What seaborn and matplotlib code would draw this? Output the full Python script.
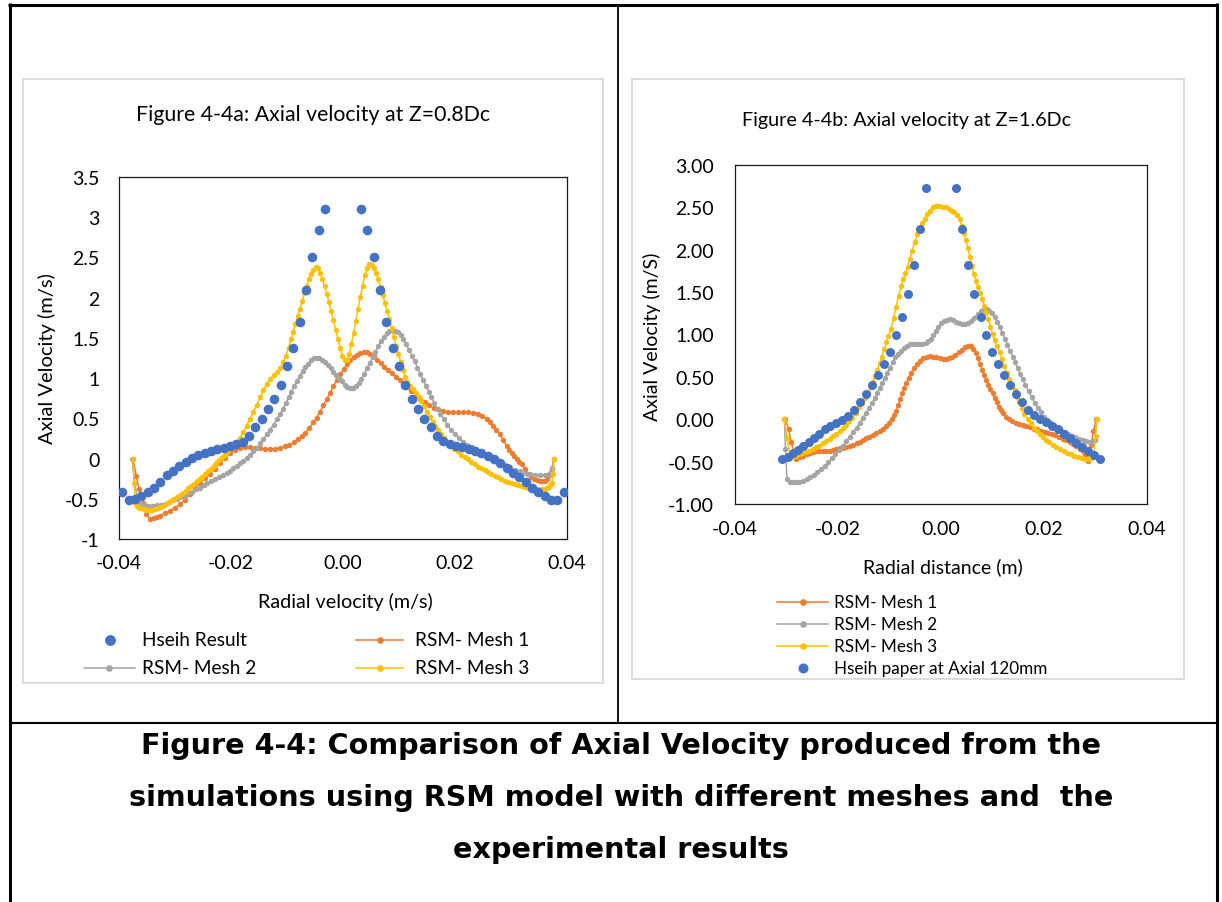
import matplotlib
matplotlib.use("Agg")
import matplotlib.pyplot as plt
import seaborn as sns
from matplotlib.lines import Line2D
from matplotlib.patches import Rectangle

# ---------------- data ----------------
title_a = "Figure 4-4a: Axial velocity at Z=0.8Dc"
title_b = "Figure 4-4b: Axial velocity at Z=1.6Dc"
xlabel_a = "Radial velocity (m/s)"
xlabel_b = "Radial distance (m)"
ylabel_a = "Axial Velocity (m/s)"
ylabel_b = "Axial Velocity (m/S)"
legend_a = ["Hseih Result", "RSM- Mesh 1", "RSM- Mesh 2", "RSM- Mesh 3"]
legend_b = ["RSM- Mesh 1", "RSM- Mesh 2", "RSM- Mesh 3", "Hseih paper at Axial 120mm"]
caption_lines = ["Figure 4-4: Comparison of Axial Velocity produced from the",
                 "simulations using RSM model with different meshes and  the",
                 "experimental results"]

xticks = [-0.04, -0.02, 0.0, 0.02, 0.04]
xtick_labels = ["-0.04", "-0.02", "0.00", "0.02", "0.04"]
yticks_a = [-1, -0.5, 0, 0.5, 1, 1.5, 2, 2.5, 3, 3.5]
ytick_labels_a = ["-1", "-0.5", "0", "0.5", "1", "1.5", "2", "2.5", "3", "3.5"]
yticks_b = [-1, -0.5, 0, 0.5, 1, 1.5, 2, 2.5, 3]
ytick_labels_b = ["-1.00", "-0.50", "0.00", "0.50", "1.00", "1.50", "2.00", "2.50", "3.00"]

# Chart a -------------------------------------------------------------
hseih_a = [(-0.0395, -0.42), (-0.0383, -0.51), (-0.0372, -0.50), (-0.0360, -0.46), (-0.0349, -0.42),
           (-0.0338, -0.36), (-0.0327, -0.29), (-0.0315, -0.21), (-0.0304, -0.16), (-0.0293, -0.09),
           (-0.0281, -0.04), (-0.0270, 0.01), (-0.0259, 0.05), (-0.0247, 0.07), (-0.0236, 0.10),
           (-0.0225, 0.12), (-0.0213, 0.13), (-0.0202, 0.15), (-0.0191, 0.18), (-0.0179, 0.21),
           (-0.0168, 0.28), (-0.0157, 0.39), (-0.0145, 0.49), (-0.0134, 0.61), (-0.0123, 0.74),
           (-0.0111, 0.91), (-0.0100, 1.15), (-0.0089, 1.38), (-0.0077, 1.70), (-0.0066, 2.10),
           (-0.0055, 2.51), (-0.0043, 2.84), (-0.0032, 3.10),
           (0.0032, 3.10), (0.0043, 2.84), (0.0055, 2.51), (0.0066, 2.10), (0.0077, 1.70),
           (0.0089, 1.38), (0.0100, 1.15), (0.0111, 0.91), (0.0123, 0.74), (0.0134, 0.61),
           (0.0145, 0.49), (0.0157, 0.39), (0.0168, 0.28), (0.0179, 0.22), (0.0191, 0.18),
           (0.0202, 0.15), (0.0213, 0.14), (0.0225, 0.12), (0.0236, 0.10), (0.0247, 0.07),
           (0.0259, 0.03), (0.0270, -0.01), (0.0281, -0.06), (0.0293, -0.12), (0.0304, -0.18),
           (0.0315, -0.23), (0.0327, -0.29), (0.0338, -0.36), (0.0349, -0.41), (0.0360, -0.46),
           (0.0372, -0.51), (0.0383, -0.52), (0.0395, -0.42)]

mesh1_a = [(-0.0375, 0.0), (-0.0369, -0.22), (-0.0364, -0.38), (-0.0357, -0.55), (-0.0351, -0.69),
           (-0.0345, -0.75), (-0.0338, -0.74), (-0.0332, -0.73), (-0.0326, -0.71), (-0.0318, -0.68),
           (-0.0309, -0.65), (-0.0300, -0.61), (-0.0291, -0.57), (-0.0282, -0.51), (-0.0273, -0.44),
           (-0.0264, -0.37), (-0.0255, -0.30), (-0.0246, -0.24), (-0.0238, -0.19), (-0.0229, -0.13),
           (-0.0220, -0.06), (-0.0211, 0.01), (-0.0202, 0.07), (-0.0193, 0.11), (-0.0184, 0.13),
           (-0.0175, 0.14), (-0.0166, 0.14), (-0.0157, 0.13), (-0.0148, 0.13), (-0.0139, 0.12),
           (-0.0130, 0.12), (-0.0121, 0.12), (-0.0112, 0.13), (-0.0104, 0.15), (-0.0096, 0.17),
           (-0.0088, 0.20), (-0.0081, 0.24), (-0.0074, 0.28), (-0.0067, 0.32), (-0.0060, 0.38),
           (-0.0053, 0.45), (-0.0047, 0.51), (-0.0041, 0.58), (-0.0035, 0.66), (-0.0029, 0.74),
           (-0.0023, 0.82), (-0.0017, 0.90), (-0.0011, 0.98), (-0.0005, 1.05), (0.0001, 1.11),
           (0.0007, 1.17), (0.0013, 1.22), (0.0019, 1.26), (0.0025, 1.29), (0.0031, 1.31),
           (0.0037, 1.32), (0.0043, 1.32), (0.0049, 1.30), (0.0055, 1.27), (0.0061, 1.23),
           (0.0067, 1.19), (0.0073, 1.14), (0.0080, 1.10), (0.0087, 1.06), (0.0094, 1.02),
           (0.0101, 0.98), (0.0108, 0.94), (0.0115, 0.89), (0.0122, 0.84), (0.0130, 0.79),
           (0.0138, 0.74), (0.0146, 0.70), (0.0154, 0.66), (0.0162, 0.63), (0.0170, 0.61),
           (0.0179, 0.59), (0.0188, 0.58), (0.0197, 0.575), (0.0206, 0.575), (0.0215, 0.575),
           (0.0224, 0.575), (0.0233, 0.57), (0.0241, 0.56), (0.0249, 0.53), (0.0257, 0.49),
           (0.0263, 0.45), (0.0268, 0.41), (0.0274, 0.36), (0.0280, 0.30), (0.0286, 0.23),
           (0.0292, 0.16), (0.0297, 0.11), (0.0301, 0.07), (0.0306, 0.03), (0.0310, 0.00),
           (0.0315, -0.04), (0.0319, -0.07), (0.0325, -0.13), (0.0331, -0.19), (0.0336, -0.23),
           (0.0341, -0.26), (0.0347, -0.27), (0.0352, -0.275), (0.0357, -0.28), (0.0361, -0.28),
           (0.0365, -0.25), (0.0368, -0.21), (0.0373, -0.13), (0.0377, 0.0)]

mesh2_a = [(-0.0377, 0.0), (-0.0372, -0.30), (-0.0366, -0.55), (-0.0360, -0.57), (-0.0353, -0.58),
           (-0.0346, -0.585), (-0.0339, -0.585), (-0.0332, -0.58), (-0.0325, -0.575), (-0.0318, -0.56),
           (-0.0311, -0.54), (-0.0304, -0.52), (-0.0297, -0.50), (-0.0291, -0.48), (-0.0284, -0.46),
           (-0.0277, -0.43), (-0.0270, -0.41), (-0.0263, -0.38), (-0.0256, -0.36), (-0.0249, -0.33),
           (-0.0242, -0.31), (-0.0235, -0.28), (-0.0228, -0.26), (-0.0221, -0.23), (-0.0214, -0.21),
           (-0.0208, -0.18), (-0.0202, -0.15), (-0.0196, -0.12), (-0.0190, -0.09), (-0.0184, -0.06),
           (-0.0178, -0.03), (-0.0172, 0.01), (-0.0166, 0.05), (-0.0160, 0.09), (-0.0154, 0.13),
           (-0.0148, 0.19), (-0.0142, 0.24), (-0.0136, 0.30), (-0.0130, 0.36), (-0.0124, 0.42),
           (-0.0118, 0.49), (-0.0112, 0.56), (-0.0107, 0.62), (-0.0102, 0.69), (-0.0097, 0.76),
           (-0.0092, 0.83), (-0.0087, 0.90), (-0.0082, 0.97), (-0.0077, 1.03), (-0.0072, 1.09),
           (-0.0067, 1.14), (-0.0062, 1.18), (-0.0057, 1.22), (-0.0052, 1.245), (-0.0047, 1.255),
           (-0.0042, 1.25), (-0.0037, 1.23), (-0.0032, 1.20), (-0.0027, 1.16), (-0.0022, 1.12),
           (-0.0017, 1.08), (-0.0012, 1.04), (-0.0007, 1.00), (-0.0002, 0.96), (0.0003, 0.92),
           (0.0008, 0.89), (0.0013, 0.88), (0.0018, 0.88), (0.0023, 0.90), (0.0028, 0.94),
           (0.0033, 0.99), (0.0038, 1.05), (0.0043, 1.12), (0.0048, 1.19), (0.0053, 1.26),
           (0.0058, 1.33), (0.0063, 1.40), (0.0068, 1.46), (0.0073, 1.51), (0.0078, 1.555),
           (0.0083, 1.585), (0.0088, 1.595), (0.0093, 1.59), (0.0098, 1.57), (0.0103, 1.53),
           (0.0108, 1.48), (0.0113, 1.42), (0.0118, 1.35), (0.0123, 1.28), (0.0128, 1.21),
           (0.0133, 1.13), (0.0138, 1.05), (0.0143, 0.98), (0.0148, 0.90), (0.0153, 0.83),
           (0.0158, 0.76), (0.0163, 0.69), (0.0168, 0.62), (0.0174, 0.56), (0.0180, 0.49),
           (0.0186, 0.42), (0.0193, 0.36), (0.0200, 0.30), (0.0207, 0.25), (0.0215, 0.20),
           (0.0222, 0.17), (0.0230, 0.14), (0.0238, 0.11), (0.0245, 0.085), (0.0254, 0.05),
           (0.0263, 0.015), (0.0271, -0.02), (0.0280, -0.05), (0.0289, -0.08), (0.0298, -0.11),
           (0.0307, -0.14), (0.0316, -0.16), (0.0325, -0.18), (0.0334, -0.19), (0.0343, -0.20),
           (0.0352, -0.20), (0.0360, -0.20), (0.0367, -0.195), (0.0373, -0.12), (0.0377, 0.0)]

mesh3_a = [(-0.0375, 0.0), (-0.0373, -0.30), (-0.0371, -0.55), (-0.0368, -0.59), (-0.0364, -0.61),
           (-0.0360, -0.62), (-0.0356, -0.63), (-0.0351, -0.64), (-0.0346, -0.64), (-0.0341, -0.635),
           (-0.0336, -0.63), (-0.0331, -0.62), (-0.0326, -0.60), (-0.0321, -0.585), (-0.0316, -0.565),
           (-0.0311, -0.545), (-0.0306, -0.52), (-0.0301, -0.50), (-0.0296, -0.475), (-0.0291, -0.45),
           (-0.0286, -0.425), (-0.0281, -0.40), (-0.0276, -0.37), (-0.0271, -0.345), (-0.0266, -0.315),
           (-0.0261, -0.285), (-0.0256, -0.255), (-0.0251, -0.225), (-0.0246, -0.19), (-0.0241, -0.16),
           (-0.0236, -0.125), (-0.0231, -0.09), (-0.0226, -0.055), (-0.0221, -0.02), (-0.0216, 0.015),
           (-0.0211, 0.05), (-0.0206, 0.09), (-0.0201, 0.13), (-0.0196, 0.17), (-0.0190, 0.21),
           (-0.0184, 0.26), (-0.0178, 0.33), (-0.0172, 0.41), (-0.0166, 0.49), (-0.0160, 0.58),
           (-0.0154, 0.67), (-0.0148, 0.76), (-0.0142, 0.85), (-0.0136, 0.93), (-0.0130, 0.99),
           (-0.0124, 1.04), (-0.0118, 1.08), (-0.0112, 1.12), (-0.0107, 1.20), (-0.0102, 1.28),
           (-0.0097, 1.38), (-0.0093, 1.48), (-0.0089, 1.57), (-0.0085, 1.67), (-0.0081, 1.77),
           (-0.0077, 1.86), (-0.0073, 1.96), (-0.0069, 2.06), (-0.0065, 2.15), (-0.0061, 2.23),
           (-0.0057, 2.30), (-0.0053, 2.35), (-0.0049, 2.38), (-0.0045, 2.37), (-0.0041, 2.31),
           (-0.0037, 2.23), (-0.0033, 2.14), (-0.0029, 2.05), (-0.0025, 1.94), (-0.0021, 1.83),
           (-0.0017, 1.72), (-0.0013, 1.60), (-0.0009, 1.49), (-0.0005, 1.38), (-0.0001, 1.28),
           (0.0003, 1.22), (0.0007, 1.22), (0.0011, 1.30), (0.0015, 1.42), (0.0019, 1.56),
           (0.0023, 1.71), (0.0027, 1.86), (0.0031, 2.01), (0.0035, 2.15), (0.0039, 2.28),
           (0.0043, 2.37), (0.0047, 2.42), (0.0051, 2.41), (0.0055, 2.37), (0.0059, 2.31),
           (0.0063, 2.23), (0.0067, 2.13), (0.0071, 2.03), (0.0075, 1.93), (0.0079, 1.83),
           (0.0083, 1.73), (0.0087, 1.62), (0.0091, 1.51), (0.0095, 1.40), (0.0099, 1.30),
           (0.0103, 1.20), (0.0107, 1.10), (0.0111, 1.01), (0.0115, 0.95), (0.0120, 0.90),
           (0.0125, 0.86), (0.0130, 0.82), (0.0135, 0.77), (0.0140, 0.71), (0.0145, 0.65),
           (0.0150, 0.58), (0.0155, 0.52), (0.0160, 0.46), (0.0165, 0.40), (0.0170, 0.35),
           (0.0175, 0.30), (0.0181, 0.25), (0.0187, 0.20), (0.0193, 0.16), (0.0199, 0.12),
           (0.0205, 0.09), (0.0211, 0.05), (0.0217, 0.02), (0.0223, -0.01), (0.0229, -0.04),
           (0.0235, -0.07), (0.0241, -0.10), (0.0247, -0.12), (0.0253, -0.145), (0.0259, -0.17),
           (0.0265, -0.195), (0.0271, -0.215), (0.0277, -0.235), (0.0283, -0.255), (0.0289, -0.275),
           (0.0295, -0.29), (0.0301, -0.305), (0.0307, -0.32), (0.0313, -0.33), (0.0319, -0.34),
           (0.0325, -0.35), (0.0331, -0.36), (0.0337, -0.37), (0.0343, -0.375), (0.0349, -0.38),
           (0.0355, -0.38), (0.0360, -0.375), (0.0364, -0.36), (0.0367, -0.35), (0.0370, -0.33),
           (0.0373, -0.30), (0.0375, -0.19), (0.0377, 0.0)]

# Chart b -------------------------------------------------------------
hseih_b = [(-0.0308, -0.47), (-0.0297, -0.44), (-0.0287, -0.40), (-0.0277, -0.36), (-0.0267, -0.31),
           (-0.0257, -0.265), (-0.0247, -0.22), (-0.0237, -0.175), (-0.0226, -0.12), (-0.0215, -0.08),
           (-0.0204, -0.04), (-0.0193, -0.005), (-0.0181, 0.035), (-0.0169, 0.11), (-0.0157, 0.20),
           (-0.0145, 0.30), (-0.0134, 0.41), (-0.0122, 0.52), (-0.0110, 0.65), (-0.0099, 0.79),
           (-0.0087, 1.00), (-0.0075, 1.21), (-0.0064, 1.48), (-0.0052, 1.82), (-0.0041, 2.25),
           (-0.0029, 2.73),
           (0.0029, 2.73), (0.0041, 2.25), (0.0053, 1.82), (0.0065, 1.48), (0.0077, 1.21),
           (0.0088, 1.00), (0.0099, 0.79), (0.0111, 0.65), (0.0123, 0.52), (0.0134, 0.41),
           (0.0146, 0.30), (0.0157, 0.20), (0.0169, 0.11), (0.0181, 0.045), (0.0192, 0.005),
           (0.0203, -0.03), (0.0215, -0.075), (0.0227, -0.115), (0.0239, -0.17), (0.0251, -0.225),
           (0.0263, -0.28), (0.0274, -0.33), (0.0285, -0.38), (0.0297, -0.42), (0.0308, -0.47)]

mesh1_b = [(-0.0302, 0.0), (-0.0296, -0.12), (-0.0291, -0.27), (-0.0285, -0.40), (-0.0281, -0.47),
           (-0.0274, -0.45), (-0.0268, -0.43), (-0.0261, -0.41), (-0.0255, -0.40), (-0.0248, -0.39),
           (-0.0242, -0.38), (-0.0236, -0.375), (-0.0229, -0.37), (-0.0223, -0.37), (-0.0216, -0.37),
           (-0.0210, -0.365), (-0.0203, -0.355), (-0.0197, -0.345), (-0.0190, -0.34), (-0.0184, -0.33),
           (-0.0177, -0.315), (-0.0171, -0.30), (-0.0164, -0.28), (-0.0158, -0.265), (-0.0152, -0.245),
           (-0.0145, -0.225), (-0.0139, -0.205), (-0.0132, -0.185), (-0.0126, -0.16), (-0.0119, -0.135),
           (-0.0113, -0.11), (-0.0107, -0.08), (-0.0101, -0.04), (-0.0096, 0.00), (-0.0091, 0.05),
           (-0.0087, 0.10), (-0.0083, 0.17), (-0.0079, 0.24), (-0.0075, 0.31), (-0.0071, 0.37),
           (-0.0067, 0.43), (-0.0063, 0.49), (-0.0058, 0.55), (-0.0053, 0.60), (-0.0047, 0.65),
           (-0.0041, 0.69), (-0.0035, 0.72), (-0.0028, 0.74), (-0.0022, 0.745), (-0.0015, 0.74),
           (-0.0009, 0.73), (-0.0002, 0.72), (0.0004, 0.71), (0.0010, 0.715), (0.0016, 0.72),
           (0.0022, 0.74), (0.0028, 0.76), (0.0034, 0.79), (0.0040, 0.82), (0.0046, 0.85),
           (0.0052, 0.865), (0.0058, 0.86), (0.0063, 0.83), (0.0068, 0.78), (0.0072, 0.72),
           (0.0076, 0.65), (0.0080, 0.58), (0.0084, 0.52), (0.0088, 0.46), (0.0092, 0.41),
           (0.0096, 0.36), (0.0100, 0.31), (0.0104, 0.25), (0.0108, 0.20), (0.0112, 0.15),
           (0.0116, 0.11), (0.0121, 0.07), (0.0126, 0.03), (0.0132, 0.00), (0.0138, -0.02),
           (0.0145, -0.04), (0.0152, -0.06), (0.0159, -0.07), (0.0166, -0.08), (0.0173, -0.09),
           (0.0180, -0.11), (0.0187, -0.12), (0.0194, -0.14), (0.0201, -0.155), (0.0208, -0.165),
           (0.0215, -0.175), (0.0222, -0.19), (0.0229, -0.21), (0.0236, -0.23), (0.0243, -0.25),
           (0.0250, -0.27), (0.0257, -0.295), (0.0263, -0.32), (0.0269, -0.35), (0.0275, -0.38),
           (0.0280, -0.42), (0.0285, -0.49), (0.0291, -0.30), (0.0296, -0.14), (0.0301, 0.0)]

mesh2_b = [(-0.0304, 0.0), (-0.0302, -0.35), (-0.0299, -0.70), (-0.0294, -0.735), (-0.0288, -0.745),
           (-0.0282, -0.745), (-0.0275, -0.74), (-0.0268, -0.725), (-0.0261, -0.705), (-0.0254, -0.68),
           (-0.0247, -0.655), (-0.0240, -0.625), (-0.0233, -0.59), (-0.0226, -0.55), (-0.0219, -0.51),
           (-0.0212, -0.46), (-0.0205, -0.41), (-0.0198, -0.36), (-0.0191, -0.31), (-0.0184, -0.26),
           (-0.0177, -0.205), (-0.0171, -0.155), (-0.0164, -0.10), (-0.0158, -0.045), (-0.0152, 0.01),
           (-0.0146, 0.07), (-0.0140, 0.13), (-0.0134, 0.19), (-0.0129, 0.25), (-0.0124, 0.31),
           (-0.0119, 0.37), (-0.0114, 0.43), (-0.0109, 0.49), (-0.0104, 0.55), (-0.0099, 0.61),
           (-0.0094, 0.67), (-0.0089, 0.73), (-0.0084, 0.77), (-0.0078, 0.81), (-0.0072, 0.845),
           (-0.0066, 0.87), (-0.0060, 0.885), (-0.0054, 0.89), (-0.0048, 0.89), (-0.0042, 0.89),
           (-0.0036, 0.89), (-0.0030, 0.90), (-0.0025, 0.92), (-0.0020, 0.95), (-0.0015, 0.99),
           (-0.0010, 1.04), (-0.0005, 1.09), (0.0000, 1.13), (0.0005, 1.16), (0.0011, 1.175),
           (0.0017, 1.18), (0.0023, 1.17), (0.0029, 1.15), (0.0035, 1.135), (0.0041, 1.125),
           (0.0047, 1.125), (0.0053, 1.14), (0.0059, 1.16), (0.0065, 1.20), (0.0071, 1.24),
           (0.0077, 1.275), (0.0083, 1.30), (0.0089, 1.30), (0.0094, 1.28), (0.0099, 1.25),
           (0.0104, 1.21), (0.0109, 1.15), (0.0114, 1.09), (0.0119, 1.02), (0.0124, 0.95),
           (0.0129, 0.88), (0.0134, 0.81), (0.0139, 0.74), (0.0144, 0.67), (0.0149, 0.60),
           (0.0154, 0.53), (0.0159, 0.47), (0.0164, 0.40), (0.0170, 0.33), (0.0176, 0.26),
           (0.0182, 0.19), (0.0188, 0.13), (0.0194, 0.08), (0.0200, 0.03), (0.0206, -0.01),
           (0.0212, -0.03), (0.0219, -0.07), (0.0226, -0.10), (0.0233, -0.13), (0.0240, -0.155),
           (0.0247, -0.175), (0.0254, -0.195), (0.0261, -0.215), (0.0268, -0.23), (0.0275, -0.245),
           (0.0282, -0.26), (0.0289, -0.265), (0.0295, -0.26), (0.0299, -0.24), (0.0302, 0.0)]

mesh3_b = [(-0.0304, 0.0), (-0.0299, -0.22), (-0.0293, -0.43), (-0.0287, -0.44), (-0.0281, -0.43),
           (-0.0275, -0.415), (-0.0269, -0.40), (-0.0262, -0.385), (-0.0256, -0.37), (-0.0249, -0.35),
           (-0.0243, -0.33), (-0.0236, -0.31), (-0.0229, -0.285), (-0.0223, -0.26), (-0.0216, -0.23),
           (-0.0210, -0.20), (-0.0203, -0.17), (-0.0197, -0.135), (-0.0191, -0.10), (-0.0184, -0.065),
           (-0.0178, -0.02), (-0.0172, 0.02), (-0.0165, 0.07), (-0.0159, 0.14), (-0.0153, 0.19),
           (-0.0147, 0.25), (-0.0141, 0.31), (-0.0136, 0.38), (-0.0132, 0.44), (-0.0128, 0.51),
           (-0.0124, 0.58), (-0.0119, 0.66), (-0.0115, 0.74), (-0.0110, 0.83), (-0.0106, 0.91),
           (-0.0102, 0.98), (-0.0097, 1.06), (-0.0092, 1.20), (-0.0087, 1.33), (-0.0082, 1.46),
           (-0.0077, 1.57), (-0.0073, 1.65), (-0.0069, 1.72), (-0.0065, 1.80), (-0.0061, 1.89),
           (-0.0056, 1.99), (-0.0051, 2.09), (-0.0046, 2.18), (-0.0042, 2.25), (-0.0037, 2.31),
           (-0.0032, 2.36), (-0.0027, 2.42), (-0.0022, 2.46), (-0.0016, 2.50), (-0.0009, 2.52),
           (-0.0003, 2.52), (0.0003, 2.51), (0.0009, 2.50), (0.0015, 2.485), (0.0021, 2.46),
           (0.0026, 2.44), (0.0031, 2.41), (0.0036, 2.36), (0.0040, 2.28), (0.0044, 2.20),
           (0.0048, 2.12), (0.0052, 2.02), (0.0056, 1.92), (0.0060, 1.81), (0.0064, 1.71),
           (0.0068, 1.63), (0.0072, 1.56), (0.0076, 1.49), (0.0080, 1.42), (0.0084, 1.34),
           (0.0088, 1.26), (0.0092, 1.18), (0.0096, 1.09), (0.0100, 1.01), (0.0104, 0.93),
           (0.0109, 0.86), (0.0114, 0.79), (0.0118, 0.71), (0.0123, 0.63), (0.0128, 0.55),
           (0.0133, 0.475), (0.0138, 0.41), (0.0143, 0.34), (0.0148, 0.26), (0.0152, 0.20),
           (0.0157, 0.13), (0.0162, 0.06), (0.0168, 0.0), (0.0174, -0.05), (0.0180, -0.10),
           (0.0186, -0.14), (0.0192, -0.175), (0.0198, -0.21), (0.0204, -0.24), (0.0210, -0.27),
           (0.0217, -0.30), (0.0224, -0.33), (0.0231, -0.35), (0.0238, -0.375), (0.0245, -0.395),
           (0.0252, -0.41), (0.0259, -0.43), (0.0266, -0.445), (0.0273, -0.455), (0.0280, -0.465),
           (0.0286, -0.47), (0.0292, -0.46), (0.0297, -0.40), (0.0300, -0.20), (0.0303, 0.0)]

BLUE, ORANGE, GRAY, GOLD = "#4472C4", "#ED7D31", "#A5A5A5", "#FFC000"

# ---------------- figure ----------------
sns.set_style("white")
plt.rcParams["font.family"] = ["Lato", "DejaVu Sans"]
plt.rcParams["text.color"] = "black"

W, H = 1222, 903
fig = plt.figure(figsize=(W / 100, H / 100), dpi=100)
fig.patch.set_facecolor("white")


def fx(x):
    return x / W


def fy(y):
    return 1 - y / H


def mesh(ax, pts, color, z):
    xs, ys = zip(*pts)
    sns.lineplot(x=list(xs), y=list(ys), ax=ax, color=color, marker="o", markersize=3.9,
                 markeredgewidth=0, linewidth=1.1, sort=False, estimator=None, zorder=z)


def hseih(ax, pts, s):
    xs, ys = zip(*pts)
    sns.scatterplot(x=list(xs), y=list(ys), ax=ax, color=BLUE, s=s, linewidth=0, zorder=10)


def style(ax, ylim, yticks, ylabels, xpad, ypad):
    ax.set_xlim(-0.04, 0.04)
    ax.set_ylim(*ylim)
    ax.set_xticks(xticks)
    ax.set_xticklabels(xtick_labels)
    ax.set_yticks(yticks)
    ax.set_yticklabels(ylabels)
    ax.tick_params(axis="x", length=0, pad=xpad, labelsize=14, colors="black")
    ax.tick_params(axis="y", length=0, pad=ypad, labelsize=14, colors="black")
    ax.set_xlabel("")
    ax.set_ylabel("")
    for sp in ax.spines.values():
        sp.set_visible(True)
        sp.set_color("#1a1a1a")
        sp.set_linewidth(0.9)
    ax.grid(False)


# Chart a
ax_a = fig.add_axes([fx(119), fy(540), (567 - 119) / W, (540 - 178) / H])
mesh(ax_a, mesh1_a, ORANGE, 3)
mesh(ax_a, mesh2_a, GRAY, 4)
mesh(ax_a, mesh3_a, GOLD, 5)
hseih(ax_a, hseih_a, 48)
style(ax_a, (-1, 3.5), yticks_a, ytick_labels_a, 10.5, 14)

# Chart b
ax_b = fig.add_axes([fx(735), fy(505), (1147 - 735) / W, (505 - 166) / H])
mesh(ax_b, mesh1_b, ORANGE, 3)
mesh(ax_b, mesh2_b, GRAY, 4)
mesh(ax_b, mesh3_b, GOLD, 5)
hseih(ax_b, hseih_b, 42)
style(ax_b, (-1, 3), yticks_b, ytick_labels_b, 11.5, 15)

# titles and axis labels
fig.text(fx(313), fy(115), title_a, ha="center", va="center", fontsize=15.3)
fig.text(fx(907), fy(121), title_b, ha="center", va="center", fontsize=14.2)
fig.text(fx(345), fy(602), xlabel_a, ha="center", va="center", fontsize=14.2)
fig.text(fx(47), fy(359), ylabel_a, ha="center", va="center", rotation=90, fontsize=14.5)
fig.text(fx(943), fy(567), xlabel_b, ha="center", va="center", fontsize=14)
fig.text(fx(652), fy(337), ylabel_b, ha="center", va="center", rotation=90, fontsize=14)


# legends (drawn as a key)
def key_line(x0, x1, y, color):
    fig.add_artist(Line2D([fx(x0), fx(x1)], [fy(y), fy(y)], transform=fig.transFigure,
                          color=color, lw=1.4, alpha=0.8))
    fig.add_artist(Line2D([fx((x0 + x1) / 2)], [fy(y)], transform=fig.transFigure,
                          color=color, marker="o", ms=4.8, mew=0, ls="none"))


def key_dot(x, y, ms):
    fig.add_artist(Line2D([fx(x)], [fy(y)], transform=fig.transFigure,
                          color=BLUE, marker="o", ms=ms, mew=0, ls="none"))


key_dot(110, 641, 7.8)
fig.text(fx(142), fy(641), legend_a[0], ha="left", va="center", fontsize=13.7)
key_line(356, 403, 641, ORANGE)
fig.text(fx(415), fy(641), legend_a[1], ha="left", va="center", fontsize=13.7)
key_line(84, 135, 669, GRAY)
fig.text(fx(142), fy(669), legend_a[2], ha="left", va="center", fontsize=13.7)
key_line(356, 403, 669, GOLD)
fig.text(fx(415), fy(669), legend_a[3], ha="left", va="center", fontsize=13.7)

rows_b = [603, 625, 647, 669]
for lab, col, yy in zip(legend_b[:3], [ORANGE, GRAY, GOLD], rows_b[:3]):
    key_line(777, 828, yy, col)
    fig.text(fx(834), fy(yy), lab, ha="left", va="center", fontsize=12.3)
key_dot(802.5, rows_b[3], 7.2)
fig.text(fx(834), fy(rows_b[3]), legend_b[3], ha="left", va="center", fontsize=12.3)

# chart area frames (light grey)
fig.add_artist(Rectangle((fx(23), fy(684)), (603 - 23) / W, (684 - 80) / H, transform=fig.transFigure,
                         fill=False, edgecolor="#D9D9D9", lw=1.3))
fig.add_artist(Rectangle((fx(632), fy(680)), (1184 - 632) / W, (680 - 80) / H, transform=fig.transFigure,
                         fill=False, edgecolor="#D9D9D9", lw=1.3))


# table borders
def bline(xs, ys, lw):
    fig.add_artist(Line2D([fx(v) for v in xs], [fy(v) for v in ys], transform=fig.transFigure,
                          color="black", lw=lw, solid_capstyle="butt"))


bline([8, 1218], [5.5, 5.5], 2.2)
bline([9.5, 9.5], [4, 903], 2.2)
bline([1216.5, 1216.5], [4, 903], 2.2)
bline([617.7, 617.7], [5, 723], 1.3)
bline([9, 1217], [723.5, 723.5], 1.5)

# caption
for line, yy in zip(caption_lines, [746, 798, 850]):
    fig.text(fx(621), fy(yy), line, ha="center", va="center", fontsize=20.6,
             fontweight="bold", family=["DejaVu Sans"])

fig.savefig("out.png", dpi=100, facecolor="white")
